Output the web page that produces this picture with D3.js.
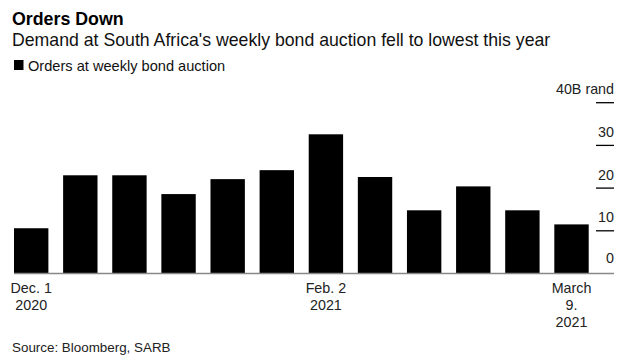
<!DOCTYPE html>
<html><head><meta charset="utf-8">
<script src="https://cdn.jsdelivr.net/npm/d3@7"></script>
<style>
body{margin:0;background:#fff;}
svg{display:block;font-family:"Liberation Sans",Arial,Helvetica,sans-serif;}
</style></head><body>
<svg id="c" width="635" height="362"></svg>
<script>
const dates = ["2020-12-01","2020-12-08","2020-12-15","2021-01-12","2021-01-19","2021-01-26","2021-02-02","2021-02-09","2021-02-16","2021-02-23","2021-03-02","2021-03-09"];
const orders = [10.6, 23.0, 23.0, 18.6, 22.1, 24.2, 32.6, 22.6, 14.8, 20.4, 14.8, 11.5];
const yTicks = [0, 10, 20, 30, 40];
const xLabels = {"2020-12-01":["Dec. 1","2020"],"2021-02-02":["Feb. 2","2021"],"2021-03-09":["March","9.","2021"]};

const svg = d3.select("#c");
const x = d3.scaleBand().domain(dates).range([14, 588.7]).paddingInner(0.3).paddingOuter(0);
const y = d3.scaleLinear().domain([0, 40]).range([273.5, 102.7]);

svg.append("text").attr("x",12).attr("y",25).attr("font-size",17.8).attr("font-weight","bold").attr("fill","#000").text("Orders Down");
svg.append("text").attr("x",12).attr("y",46).attr("font-size",17.7).attr("fill","#111").text("Demand at South Africa's weekly bond auction fell to lowest this year");
svg.append("rect").attr("x",14).attr("y",60).attr("width",9.5).attr("height",10).attr("fill","#000");
svg.append("text").attr("x",28).attr("y",71).attr("font-size",14.6).attr("fill","#111").text("Orders at weekly bond auction");

svg.append("g").selectAll("rect").data(dates).join("rect")
  .attr("x", d=>x(d)).attr("width", x.bandwidth())
  .attr("y", (d,i)=>y(orders[i])).attr("height",(d,i)=>y(0)-y(orders[i]))
  .attr("fill","#000");

// y axis on right
const ya = svg.append("g");
ya.selectAll("line").data(yTicks.filter(t=>t>0)).join("line")
  .attr("x1",596).attr("x2",614).attr("y1",d=>y(d)).attr("y2",d=>y(d))
  .attr("stroke","#000").attr("stroke-width",1.3);
ya.selectAll("text").data(yTicks).join("text")
  .attr("x",614).attr("y",d=>d===0? y(d)-10.5 : y(d)-8.6).attr("text-anchor","end")
  .attr("font-size",14.3).attr("fill","#222")
  .text(d=>d===40? "40B rand" : d);

// baseline
svg.append("line").attr("x1",14).attr("x2",614).attr("y1",y(0)).attr("y2",y(0)).attr("stroke","#888").attr("stroke-width",1.6);

// x labels
const xl = svg.append("g");
Object.entries(xLabels).forEach(([d,lines])=>{
  const cx = x(d)+x.bandwidth()/2;
  lines.forEach((t,i)=>{
    xl.append("text").attr("x",cx).attr("y",293+i*17).attr("text-anchor","middle")
      .attr("font-size",14.3).attr("fill","#222").text(t);
  });
});

svg.append("text").attr("x",12).attr("y",352).attr("font-size",13.4).attr("fill","#222").text("Source: Bloomberg, SARB");
</script>
</body></html>
